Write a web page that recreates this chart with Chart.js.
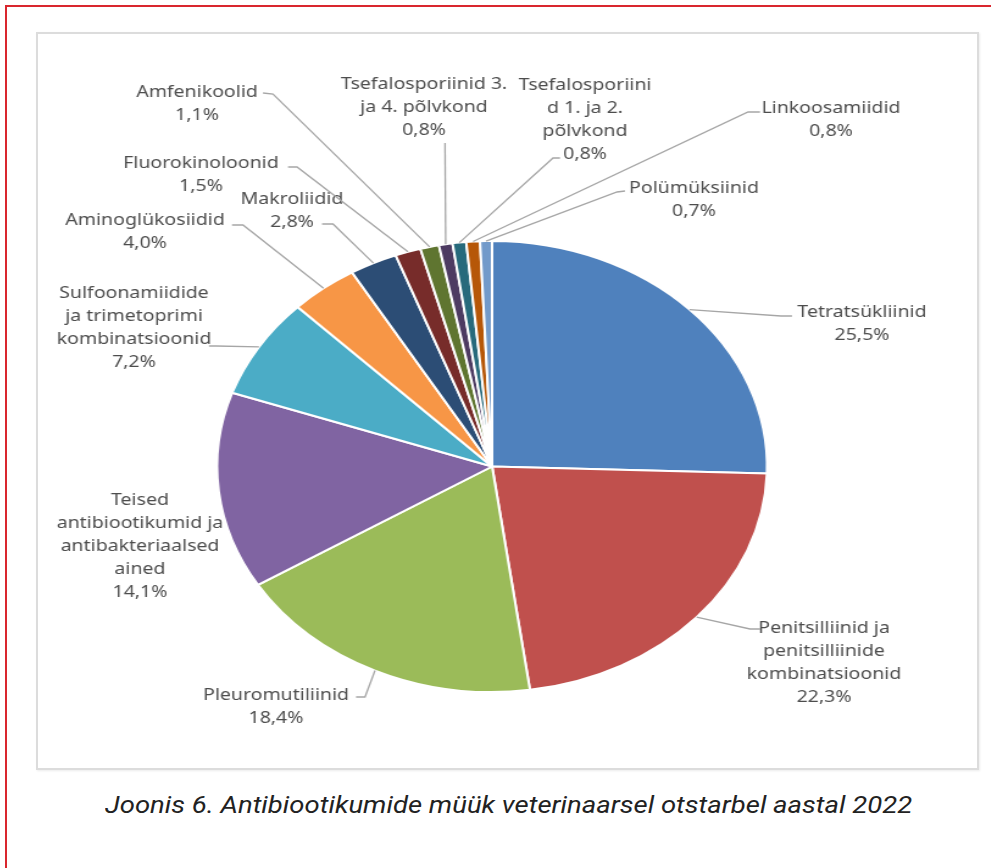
<!DOCTYPE html>
<html>
<head>
<meta charset="utf-8">
<script src="https://cdn.jsdelivr.net/npm/chart.js@4.4.1/dist/chart.umd.min.js"></script>
<style>
  html, body { margin: 0; padding: 0; background: #fff; }
  body { width: 991px; height: 868px; position: relative; overflow: hidden; }
  .frame { position: absolute; left: 5px; top: 5px; width: 1000px; height: 880px;
           border-top: 2px solid #d9262e; border-left: 2px solid #d9262e; }
  .box { position: absolute; left: 36px; top: 32px; width: 939px; height: 734px;
         border: 2px solid #dcdcdc; box-shadow: 1px 1px 2px rgba(0,0,0,0.08); background: #fff; }
  .plot { position: absolute; left: 36px; top: 33px; width: 772px; height: 735px;
          transform-origin: 0 0; transform: scaleX(1.2195); }
  .plot canvas { width: 772px; height: 735px; }
  .caption { position: absolute; left: 105px; top: 791px; white-space: nowrap;
             font-family: Roboto, sans-serif; font-style: italic; font-size: 24px;
             line-height: 28px; color: #222; transform-origin: 0 0; }
</style>
</head>
<body>
<div class="frame"></div>
<div class="box"></div>
<div class="plot"><canvas id="pie" width="772" height="735"></canvas></div>
<div class="caption" id="caption">Joonis 6. Antibiootikumide müük veterinaarsel otstarbel aastal 2022</div>
<script>
// categories, clockwise from 12 o'clock
const categories = [
  "Tetratsükliinid",
  "Penitsilliinid ja penitsilliinide kombinatsioonid",
  "Pleuromutiliinid",
  "Teised antibiootikumid ja antibakteriaalsed ained",
  "Sulfoonamiidide ja trimetoprimi kombinatsioonid",
  "Aminoglükosiidid",
  "Makroliidid",
  "Fluorokinoloonid",
  "Amfenikoolid",
  "Tsefalosporiinid 3. ja 4. põlvkond",
  "Tsefalosporiinid 1. ja 2. põlvkond",
  "Linkoosamiidid",
  "Polümüksiinid",
];
const shares = [25.5, 22.3, 18.4, 14.1, 7.2, 4.0, 2.8, 1.5, 1.1, 0.8, 0.8, 0.8, 0.7];

// wrapped label text as in the picture
const labelLines = [
  ["Tetratsükliinid"],
  ["Penitsilliinid ja", "penitsilliinide", "kombinatsioonid"],
  ["Pleuromutiliinid"],
  ["Teised", "antibiootikumid ja", "antibakteriaalsed", "ained"],
  ["Sulfoonamiidide", "ja trimetoprimi", "kombinatsioonid"],
  ["Aminoglükosiidid"],
  ["Makroliidid"],
  ["Fluorokinoloonid"],
  ["Amfenikoolid"],
  ["Tsefalosporiinid 3.", "ja 4. põlvkond"],
  ["Tsefalosporiini", "d 1. ja 2.", "põlvkond"],
  ["Linkoosamiidid"],
  ["Polümüksiinid"],
];

const colors = [
  "#4f81bd", "#c0504d", "#9bbb59", "#8064a2", "#4bacc6", "#f79646",
  "#2c4d75", "#772c2a", "#5f7530", "#4d3b62", "#276a7c", "#b65708", "#729aca",
];

// label placement (page pixels): text centre, first line y, leader elbow/end
const labelPos = [
  { x: 862, y: 312, elbow: [781, 316], end: [792, 316] },
  { x: 824, y: 628, elbow: [750, 629], end: [760, 629] },
  { x: 276, y: 695, elbow: [365, 697], end: [356, 697] },
  { x: 140, y: 500 },
  { x: 134, y: 293, elbow: [216, 346], end: [209, 346] },
  { x: 145, y: 220, elbow: [243, 225], end: [232, 225] },
  { x: 292, y: 199, elbow: [333, 224], end: [322, 224] },
  { x: 201, y: 163, elbow: [297, 167], end: [288, 167] },
  { x: 197, y: 92, elbow: [273, 94], end: [263, 93] },
  { x: 424, y: 84, end: [445, 143] },
  { x: 585, y: 85, elbow: [553, 158], end: [560, 158] },
  { x: 831, y: 108, elbow: [748, 112], end: [760, 112] },
  { x: 694, y: 188, elbow: [617, 192], end: [625, 191] },
];

const STRETCH = 1.2195, OX = 36, OY = 33;
const toCanvas = (p) => [(p[0] - OX) / STRETCH, p[1] - OY];

const leaderLabels = {
  id: "leaderLabels",
  afterDatasetsDraw(chart) {
    const ctx = chart.ctx;
    const arcs = chart.getDatasetMeta(0).data;
    ctx.save();
    arcs.forEach((arc, i) => {
      const { x, y, startAngle, endAngle, outerRadius } =
        arc.getProps(["x", "y", "startAngle", "endAngle", "outerRadius"], true);
      const mid = (startAngle + endAngle) / 2;
      const ax = x + Math.cos(mid) * outerRadius;
      const ay = y + Math.sin(mid) * outerRadius;
      const pos = labelPos[i];
      if (pos.end) {
        ctx.beginPath();
        ctx.moveTo(ax, ay);
        if (pos.elbow) {
          const e = toCanvas(pos.elbow);
          ctx.lineTo(e[0], e[1]);
        }
        const en = toCanvas(pos.end);
        ctx.lineTo(en[0], en[1]);
        ctx.strokeStyle = "#a6a6a6";
        ctx.lineWidth = 1.3;
        ctx.stroke();
      }
      const lines = labelLines[i].concat(shares[i].toFixed(1).replace(".", ",") + "%");
      const c = toCanvas([pos.x, pos.y]);
      ctx.fillStyle = "#4d4d4d";
      ctx.font = '16px "Noto Sans", sans-serif';
      ctx.textAlign = "center";
      ctx.textBaseline = "middle";
      lines.forEach((t, k) => ctx.fillText(t, c[0], c[1] + k * 23));
    });
    ctx.restore();
  },
};

new Chart(document.getElementById("pie").getContext("2d"), {
  type: "pie",
  data: {
    labels: categories,
    datasets: [
      {
        data: shares,
        backgroundColor: colors,
        borderColor: "#ffffff",
        borderWidth: 2,
      },
    ],
  },
  options: {
    responsive: false,
    devicePixelRatio: 1,
    animation: false,
    layout: { padding: { left: 140, right: 164, top: 207, bottom: 75 } },
    plugins: {
      legend: { display: false },
      tooltip: { enabled: false },
    },
  },
  plugins: [leaderLabels],
});

// fit the caption to the width it has in the picture
const cap = document.getElementById("caption");
cap.style.transform = "scaleX(" + (807 / cap.offsetWidth).toFixed(4) + ")";
</script>
</body>
</html>
